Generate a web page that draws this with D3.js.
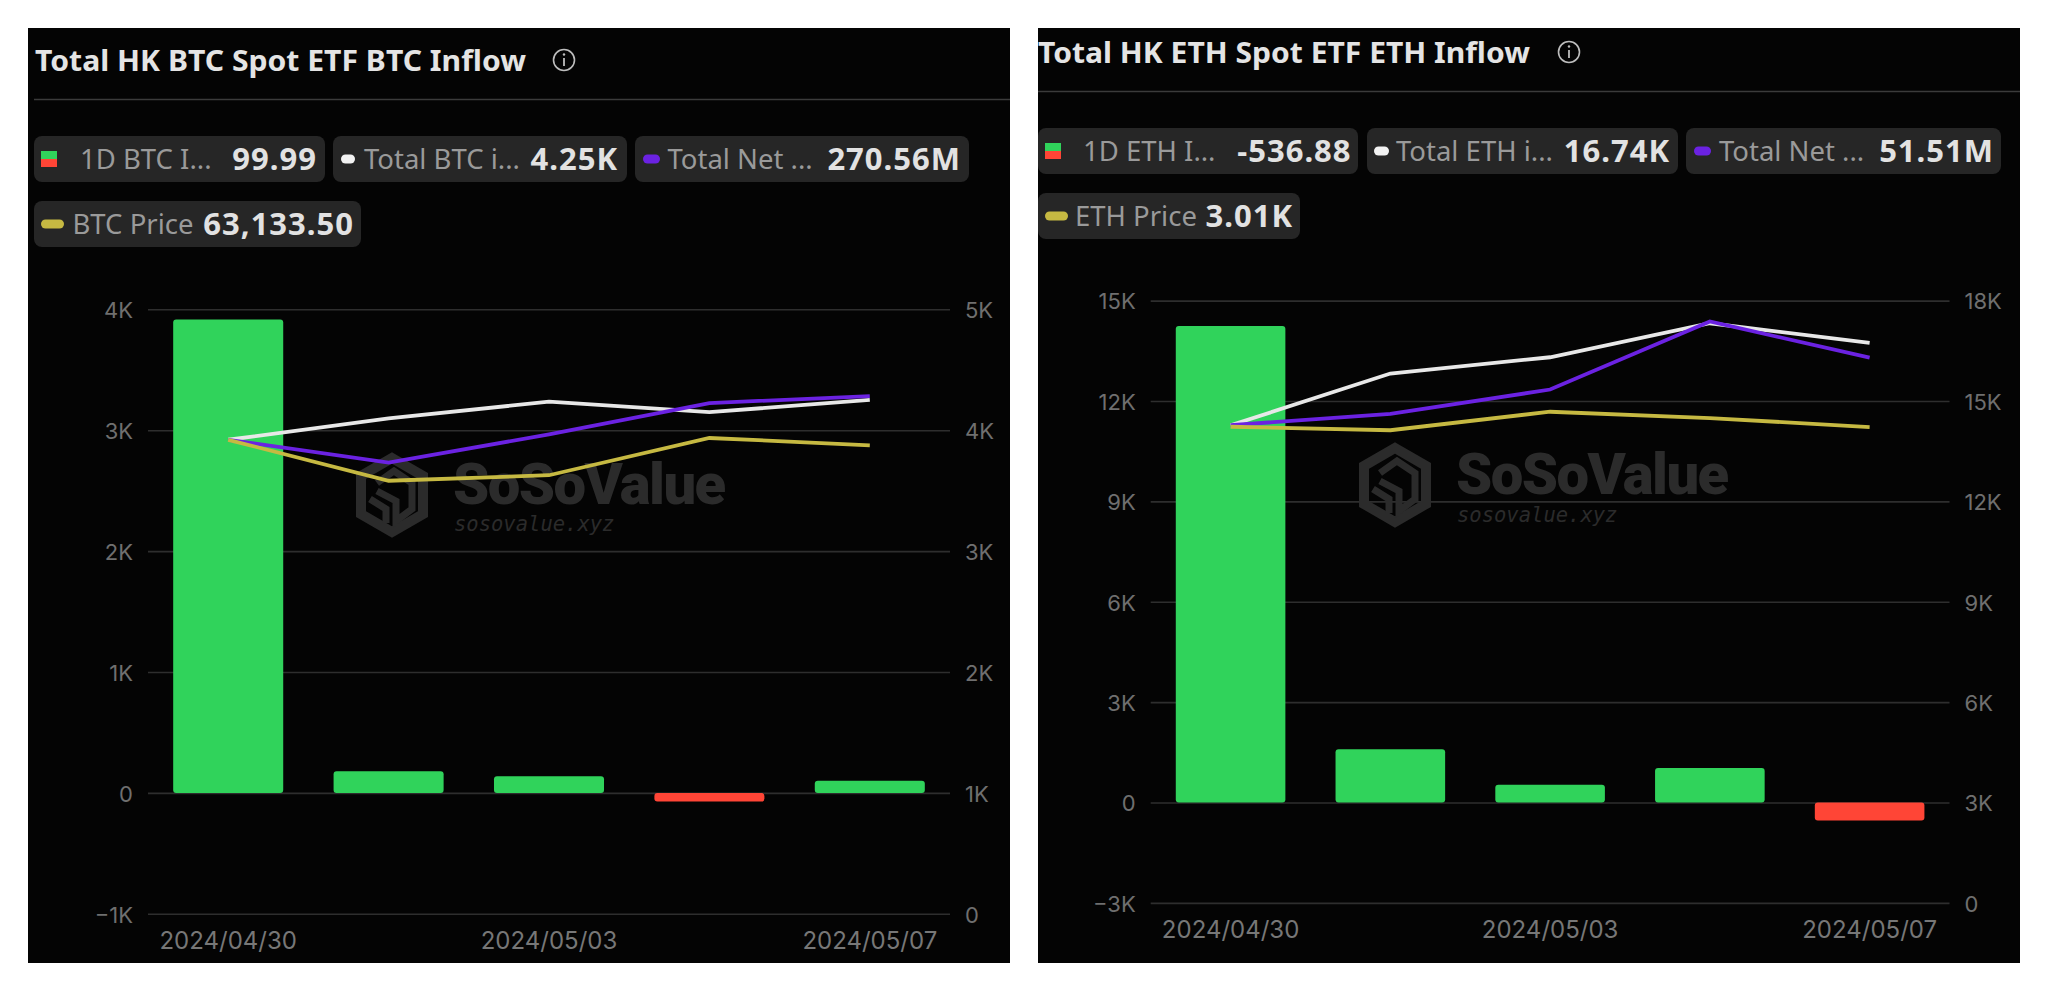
<!DOCTYPE html>
<html>
<head>
<meta charset="utf-8">
<script src="https://cdn.jsdelivr.net/npm/d3@7/dist/d3.min.js"></script>
<style>
html,body{margin:0;padding:0;background:#fff;overflow:hidden}
svg{display:block}
</style>
</head>
<body>
<svg id="c" width="2048" height="991"></svg>
<script>
// ---- data ----
const dates = ["2024/04/30","2024/05/02","2024/05/03","2024/05/06","2024/05/07"];
const shownDates = ["2024/04/30","2024/05/03","2024/05/07"];

const btcTitle = "Total HK BTC Spot ETF BTC Inflow";
const btcLegendLabels = ["1D BTC I...","Total BTC i...","Total Net ...","BTC Price"];
const btcLegendValues = ["99.99","4.25K","270.56M","63,133.50"];
const btcDaily = [3915,180,138,-72,99.99];
const btcTotal = [3921,4097,4236,4149,4250];
const btcNet = [247.8,235.9,250.6,267,270.56];
const btcPrice = [63875,58360,59100,64120,63133.5];
const btcLeftTicks = [-1000,0,1000,2000,3000,4000];
const btcRightTicks = [0,1000,2000,3000,4000,5000];
const btcLeftDomain = [-1000,4000];
const btcRightDomain = [0,5000];
const btcNetDomain = [0,316];
const btcPriceDomain = [0,81460];

const ethTitle = "Total HK ETH Spot ETF ETH Inflow";
const ethLegendLabels = ["1D ETH I...","Total ETH i...","Total Net ...","ETH Price"];
const ethLegendValues = ["-536.88","16.74K","51.51M","3.01K"];
const ethDaily = [14243,1590,532,1034,-536.88];
const ethTotal = [14273,15820,16307,17323,16740];
const ethNet = [45.13,46.19,48.5,54.93,51.51];
const ethPrice = [3012,2990,3107,3067,3010];
const ethLeftTicks = [-3000,0,3000,6000,9000,12000,15000];
const ethRightTicks = [0,3000,6000,9000,12000,15000,18000];
const ethLeftDomain = [-3000,15000];
const ethRightDomain = [0,18000];
const ethNetDomain = [0,56.9];
const ethPriceDomain = [0,3810];

// ---- styles ----
const GREEN="#30d35b", RED="#ff4536", WHITE="#e8e8e8", PURPLE="#6b22e2", YELLOW="#c6b942";
const UI='"Noto Sans","Roboto",sans-serif', AX='"Inter","Roboto",sans-serif';
const kFmt = v => v===0 ? "0" : (v<0 ? "\u2212" : "") + Math.abs(v)/1000 + "K";

const svg = d3.select("#c");
svg.append("rect").attr("width",2048).attr("height",991).attr("fill","#fff");

function drawPanel(d, L){
  const g = svg.append("g");
  g.append("rect").attr("x",L.px).attr("y",L.py).attr("width",L.pw).attr("height",L.ph).attr("fill","#040404");

  // header
  g.append("text").attr("x",L.titleX).attr("y",L.titleY).text(d.title)
    .attr("font-family",UI).attr("font-weight",700).attr("font-size",28.5).attr("fill","#e4e4e4")
    .attr("textLength",L.titleW).attr("lengthAdjust","spacingAndGlyphs");
  const info = g.append("g").attr("transform",`translate(${L.iconX},${L.iconY})`);
  info.append("circle").attr("r",10.5).attr("fill","none").attr("stroke","#bdbdbd").attr("stroke-width",1.6);
  info.append("line").attr("y1",-2).attr("y2",6).attr("stroke","#bdbdbd").attr("stroke-width",1.8);
  info.append("circle").attr("cy",-5.5).attr("r",1.2).attr("fill","#bdbdbd");
  g.append("line").attr("x1",L.divX).attr("x2",L.px+L.pw).attr("y1",L.divY).attr("y2",L.divY)
    .attr("stroke","#3b3b3b").attr("stroke-width",1.5);

  // legend chips
  L.chips.forEach((c,i)=>{
    g.append("rect").attr("x",c.x).attr("y",c.y).attr("width",c.w).attr("height",46).attr("rx",8).attr("fill","#262626");
    const sy=c.y+23;
    if(i===0){
      g.append("rect").attr("x",c.x+7).attr("y",sy-8).attr("width",16).attr("height",8).attr("fill",GREEN);
      g.append("rect").attr("x",c.x+7).attr("y",sy).attr("width",16).attr("height",8).attr("fill",RED);
    } else {
      const col=[null,"#f2f2f2",PURPLE,YELLOW][i];
      g.append("rect").attr("x",c.x+c.sx).attr("y",sy-4.5).attr("width",c.sw).attr("height",9).attr("rx",4.5).attr("fill",col);
    }
    g.append("text").attr("x",c.lx).attr("y",sy+9.5).text(d.legendLabels[i])
      .attr("font-family",UI).attr("font-size",27.5).attr("fill","#9a9a9a");
    g.append("text").attr("x",c.vr+1).attr("y",sy+10.5).attr("text-anchor","end").text(d.legendValues[i])
      .attr("font-family",UI).attr("font-weight",700).attr("font-size",31).attr("letter-spacing",1).attr("fill","#e2e2e2");
  });

  // scales
  const x = d3.scaleBand().domain(dates).range([L.x0,L.x1]).paddingInner(0.314).paddingOuter(0.157);
  const yL = d3.scaleLinear().domain(d.leftDomain).range([L.yBot,L.yTop]);
  const yR = d3.scaleLinear().domain(d.rightDomain).range([L.yBot,L.yTop]);
  const yN = d3.scaleLinear().domain(d.netDomain).range([L.yBot,L.yTop]);
  const yP = d3.scaleLinear().domain(d.priceDomain).range([L.yBot,L.yTop]);
  const cx = v => x(v)+x.bandwidth()/2;

  // grid + left axis
  const axL = g.append("g").attr("transform",`translate(${L.x0},0)`)
    .call(d3.axisLeft(yL).tickValues(d.leftTicks).tickFormat(kFmt).tickSize(-(L.x1-L.x0)).tickPadding(15));
  axL.select(".domain").remove();
  axL.selectAll("line").attr("stroke","#2e2e2e").attr("stroke-width",1.6);
  axL.selectAll("text").attr("font-family",AX).attr("font-size",22).attr("fill","#6f6f6f").attr("dy","0.38em");

  const axR = g.append("g").attr("transform",`translate(${L.x1},0)`)
    .call(d3.axisRight(yR).tickValues(d.rightTicks).tickFormat(kFmt).tickSize(0).tickPadding(15));
  axR.select(".domain").remove();
  axR.selectAll("text").attr("font-family",AX).attr("font-size",22).attr("fill","#6f6f6f").attr("dy","0.38em");

  const axB = g.append("g").attr("transform",`translate(0,${L.xLabelY})`)
    .call(d3.axisBottom(x).tickValues(shownDates).tickSize(0).tickPadding(0));
  axB.select(".domain").remove();
  axB.selectAll("text").attr("font-family",AX).attr("font-size",24).attr("fill","#777").attr("dy",0);

  // watermark
  const wm = g.append("g").attr("fill","#2b2b2b");
  const lg = wm.append("g").attr("transform",`translate(${L.wmX},${L.wmY})`);
  lg.append("path").attr("d","M0,-37L31,-19L31,19L0,37L-31,19L-31,-19Z").attr("fill","none").attr("stroke","#2b2b2b").attr("stroke-width",10);
  lg.append("path").attr("d","M-15,-12L2,-24L20,-12L20,14L4,26L4,6L-15,-4M-22,4L-6,14L-6,28").attr("fill","none").attr("stroke","#2b2b2b").attr("stroke-width",7);
  wm.append("text").attr("x",L.wmX+61).attr("y",L.wmY+9).text("SoSoValue")
    .attr("font-family",'"Roboto",sans-serif').attr("font-weight",900).attr("font-size",58).attr("letter-spacing",-1.6);
  wm.append("text").attr("x",L.wmX+62).attr("y",L.wmY+L.wmSub).text("sosovalue.xyz")
    .attr("font-family",'"DejaVu Sans Mono",monospace').attr("font-style","italic").attr("font-size",20.5);

  // bars
  g.append("g").selectAll("rect").data(d.daily.map((v,i)=>({v,k:dates[i]}))).join("rect")
    .attr("x",e=>x(e.k)).attr("width",x.bandwidth())
    .attr("y",e=>yL(Math.max(0,e.v))).attr("height",e=>Math.abs(yL(e.v)-yL(0)))
    .attr("rx",3).attr("fill",e=>e.v>=0?GREEN:RED);

  // lines
  const series=[[d.total,yR,WHITE],[d.net,yN,PURPLE],[d.price,yP,YELLOW]];
  series.forEach(([vals,sc,col])=>{
    const line=d3.line().x((v,i)=>cx(dates[i])).y(v=>sc(v));
    g.append("path").attr("d",line(vals)).attr("fill","none").attr("stroke",col).attr("stroke-width",3.8).attr("stroke-linejoin","miter");
  });
}

drawPanel({
  title:btcTitle,legendLabels:btcLegendLabels,legendValues:btcLegendValues,
  daily:btcDaily,total:btcTotal,net:btcNet,price:btcPrice,
  leftTicks:btcLeftTicks,rightTicks:btcRightTicks,leftDomain:btcLeftDomain,rightDomain:btcRightDomain,
  netDomain:btcNetDomain,priceDomain:btcPriceDomain
},{
  px:28,py:28,pw:982,ph:935,titleX:35,titleY:71,titleW:491,iconX:564,iconY:60,divX:34,divY:99.5,
  chips:[
    {x:34,y:136,w:291,lx:80,vr:316},
    {x:333,y:136,w:294,sx:8,sw:14,lx:364,vr:617},
    {x:635,y:136,w:334,sx:8,sw:17,lx:667.5,vr:960},
    {x:34,y:201,w:327,sx:7,sw:23,lx:72.5,vr:353}
  ],
  x0:148,x1:950,yTop:309.3,yBot:913.8,xLabelY:949,wmX:392,wmY:495,wmSub:36
});

drawPanel({
  title:ethTitle,legendLabels:ethLegendLabels,legendValues:ethLegendValues,
  daily:ethDaily,total:ethTotal,net:ethNet,price:ethPrice,
  leftTicks:ethLeftTicks,rightTicks:ethRightTicks,leftDomain:ethLeftDomain,rightDomain:ethRightDomain,
  netDomain:ethNetDomain,priceDomain:ethPriceDomain
},{
  px:1038,py:28,pw:982,ph:935,titleX:1038,titleY:63,titleW:492,iconX:1569,iconY:52,divX:1038,divY:91.5,
  chips:[
    {x:1038,y:128,w:320,lx:1083,vr:1350.6},
    {x:1367,y:128,w:311,sx:7,sw:15,lx:1396,vr:1669},
    {x:1686,y:128,w:315,sx:8,sw:17,lx:1719,vr:1993},
    {x:1038,y:193,w:262,sx:7,sw:23,lx:1075,vr:1292}
  ],
  x0:1150.7,x1:1949.5,yTop:300.6,yBot:902.9,xLabelY:937.6,wmX:1395,wmY:485,wmSub:37
});
</script>
</body>
</html>
